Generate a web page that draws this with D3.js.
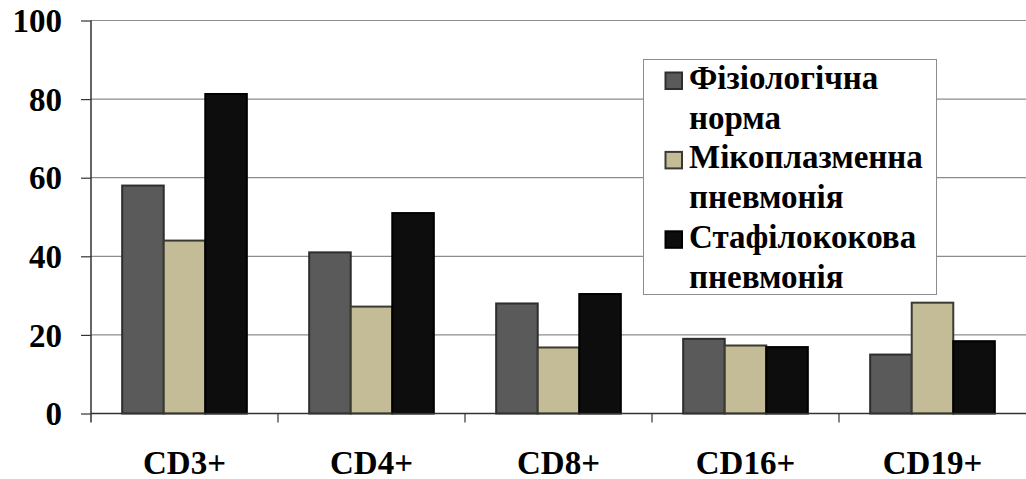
<!DOCTYPE html>
<html><head><meta charset="utf-8">
<script src="https://cdn.jsdelivr.net/npm/d3@7"></script>
<style>html,body{margin:0;padding:0;background:#fff;}</style>
</head><body>
<svg id="chart" width="1026" height="479"></svg>
<script>
const categories = ["CD3+", "CD4+", "CD8+", "CD16+", "CD19+"];
const seriesNames = ["Фізіологічна норма", "Мікоплазменна пневмонія", "Стафілококова пневмонія"];
const legendLines = [["Фізіологічна", "норма"], ["Мікоплазменна", "пневмонія"], ["Стафілококова", "пневмонія"]];
const normValues = [58, 41, 28, 19, 15];
const mycoValues = [44, 27.2, 16.8, 17.3, 28.2];
const staphValues = [81.3, 51, 30.4, 16.9, 18.4];
const yTicks = [0, 20, 40, 60, 80, 100];
const fills = ["#5a5a5a", "#c4bc97", "#0d0d0d"];
const strokes = ["#2e2e2e", "#3a3a30", "#000000"];

(function () {
const series = [normValues, mycoValues, staphValues];
const svg = d3.select("#chart");
const pLeft = 91, pRight = 1026, pTop = 20.5, pBottom = 413.5;
const styleText = sel => sel
  .attr("font-family", "Liberation Serif")
  .style("font-family", '"Liberation Serif"', "important")
  .style("font-weight", "bold", "important")
  .style("font-size", "33px").attr("fill", "#000");

const x = d3.scaleBand().domain(categories).range([pLeft, pRight]).paddingInner(0).paddingOuter(0);
const x1 = d3.scaleBand().domain(d3.range(3)).range([0, x.bandwidth()]).paddingOuter(0.75).paddingInner(0);
const y = d3.scaleLinear().domain([0, 100]).range([pBottom, pTop]);

svg.append("g").selectAll("line").data(yTicks.filter(d => d > 0)).join("line")
  .attr("x1", pLeft).attr("x2", pRight)
  .attr("y1", d => y(d)).attr("y2", d => y(d))
  .attr("stroke", "#8c8c8c").attr("stroke-width", 1.2);

const groups = svg.append("g").selectAll("g").data(categories).join("g")
  .attr("transform", c => `translate(${x(c)},0)`);
groups.selectAll("rect").data((c, i) => series.map((s, k) => ({k, v: s[i]}))).join("rect")
  .attr("x", d => x1(d.k)).attr("width", x1.bandwidth())
  .attr("y", d => y(d.v)).attr("height", d => y(0) - y(d.v))
  .attr("fill", d => fills[d.k]).attr("stroke", d => strokes[d.k]).attr("stroke-width", 2);

const yAxis = d3.axisLeft(y).tickValues(yTicks).tickSize(10).tickPadding(19);
const gy = svg.append("g").attr("transform", `translate(${pLeft},0)`).call(yAxis);
gy.attr("font-family", "Liberation Serif");
gy.select(".domain").attr("d", `M0,${pTop}V${pBottom + 9}`).attr("stroke", "#333").attr("stroke-width", 1.5);
gy.selectAll(".tick line").attr("stroke", "#333").attr("stroke-width", 1.2);
gy.selectAll(".tick text").call(styleText).attr("dy", "0.34em");

const gx = svg.append("g").attr("transform", `translate(0,${pBottom})`);
gx.append("line").attr("x1", pLeft).attr("x2", pRight).attr("y1", 0).attr("y2", 0)
  .attr("stroke", "#333").attr("stroke-width", 1.5);
gx.selectAll("line.tk").data(categories.slice(1)).join("line").attr("class", "tk")
  .attr("x1", c => x(c)).attr("x2", c => x(c)).attr("y1", 0).attr("y2", 9)
  .attr("stroke", "#333").attr("stroke-width", 1.2);
gx.selectAll("text").data(categories).join("text")
  .attr("x", c => x(c) + x.bandwidth() / 2).attr("y", 60)
  .attr("text-anchor", "middle").call(styleText).text(c => c);

const lg = svg.append("g");
lg.append("rect").attr("x", 643.5).attr("y", 59.5).attr("width", 293).attr("height", 235)
  .attr("fill", "#fff").attr("stroke", "#8c8c8c").attr("stroke-width", 1);
seriesNames.forEach((name, k) => {
  const base = 89 + k * 79.4;
  lg.append("rect").attr("x", 665.5).attr("y", base - 16.5).attr("width", 16.5).attr("height", 16.5)
    .attr("fill", fills[k]).attr("stroke", strokes[k]).attr("stroke-width", 2);
  legendLines[k].forEach((ln, j) => {
    lg.append("text").attr("x", 689).attr("y", base + j * 39.7).call(styleText).text(ln);
  });
});
})();
</script>
</body></html>
